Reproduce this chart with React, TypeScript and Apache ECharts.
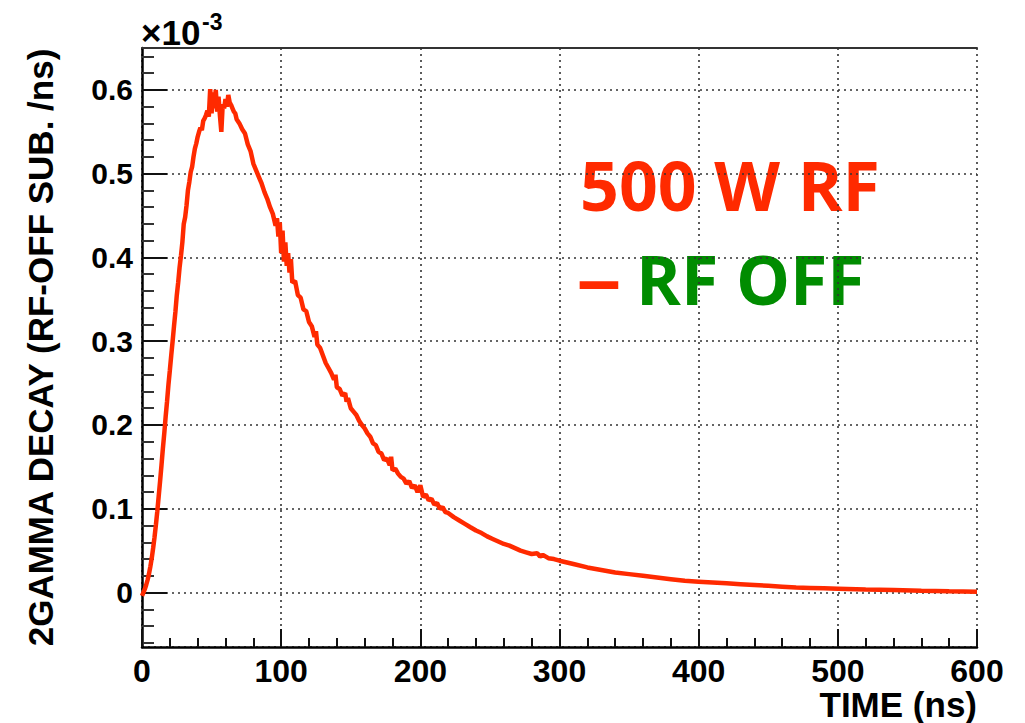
import React, { useEffect, useRef } from "react";
import * as echarts from "echarts";

// Time (ns) of each sample
const times = [
  0, 1, 2, 3, 4, 5, 6, 7, 8, 9, 10, 11, 12, 13, 14, 15, 16, 17, 18, 19,
  20, 21, 22, 23, 24, 25, 26, 27, 28, 29, 30, 31, 32, 33, 34, 35, 36, 37, 38, 39,
  40, 41, 42, 43, 44, 45, 46, 47, 48, 49, 50, 51, 52, 53, 54, 55, 56, 57, 58, 59,
  60, 61, 62, 63, 64, 65, 66, 67, 68, 70, 72, 74, 76, 78, 80, 82, 84, 86, 88, 90,
  92, 94, 96, 97, 98, 99, 100, 101, 102, 103, 104, 105, 106, 107, 108, 110, 112, 114, 116, 118,
  120, 122, 124, 125, 126, 128, 130, 132, 134, 136, 138, 139, 140, 142, 144, 146, 147, 148, 150, 152,
  154, 156, 158, 160, 162, 164, 166, 168, 170, 172, 174, 176, 178, 179, 180, 182, 184, 186, 188, 190,
  192, 194, 196, 198, 200, 202, 204, 206, 208, 210, 212, 214, 216, 218, 220, 224, 228, 232, 236, 240,
  244, 248, 252, 256, 260, 264, 268, 272, 276, 280, 284, 286, 288, 292, 296, 300, 310, 320, 330, 340,
  350, 360, 370, 380, 390, 400, 410, 420, 430, 440, 450, 460, 470, 480, 490, 500, 520, 540, 560, 580,
  600,
];

// 2GAMMA decay rate (RF-OFF subtracted), in units of 1e-3 /ns
const decay = [
  -0.004, 0.0, 0.004, 0.009, 0.015, 0.022, 0.031, 0.041, 0.053, 0.066, 0.081, 0.097, 0.115, 0.133, 0.152, 0.172, 0.19, 0.21, 0.228, 0.248,
  0.265, 0.283, 0.3, 0.318, 0.335, 0.355, 0.37, 0.388, 0.402, 0.418, 0.44, 0.448, 0.462, 0.48, 0.49, 0.502, 0.508, 0.52, 0.53, 0.536,
  0.544, 0.55, 0.555, 0.552, 0.563, 0.566, 0.57, 0.575, 0.568, 0.601, 0.572, 0.597, 0.578, 0.6, 0.574, 0.592, 0.569, 0.55, 0.583, 0.578,
  0.589, 0.58, 0.594, 0.585, 0.582, 0.578, 0.574, 0.572, 0.565, 0.56, 0.553, 0.548, 0.535, 0.527, 0.512, 0.504, 0.496, 0.488, 0.478, 0.47,
  0.46, 0.452, 0.438, 0.447, 0.425, 0.442, 0.405, 0.432, 0.395, 0.418, 0.39, 0.405, 0.382, 0.398, 0.37, 0.372, 0.355, 0.352, 0.338, 0.336,
  0.323, 0.318, 0.305, 0.312, 0.296, 0.292, 0.283, 0.274, 0.268, 0.262, 0.254, 0.26, 0.245, 0.243, 0.235, 0.238, 0.228, 0.232, 0.22, 0.216,
  0.212, 0.205, 0.2, 0.196, 0.19, 0.186, 0.178, 0.176, 0.168, 0.166, 0.158, 0.16, 0.152, 0.162, 0.146, 0.148, 0.142, 0.138, 0.136, 0.13,
  0.133, 0.125, 0.128, 0.12, 0.128, 0.114, 0.117, 0.11, 0.112, 0.105, 0.107, 0.1, 0.102, 0.096, 0.095, 0.09, 0.086, 0.082, 0.078, 0.074,
  0.071, 0.067, 0.064, 0.061, 0.058, 0.056, 0.053, 0.05, 0.048, 0.046, 0.047, 0.043, 0.045, 0.041, 0.04, 0.038, 0.034, 0.03, 0.027, 0.024,
  0.022, 0.02, 0.018, 0.016, 0.014, 0.013, 0.012, 0.011, 0.01, 0.009, 0.008, 0.007, 0.006, 0.0055, 0.005, 0.0045, 0.0035, 0.003, 0.0022, 0.0015,
  0.001,
];

const yMinorTicks = [
  -0.06, -0.04, -0.02, 0.02, 0.04, 0.06, 0.08, 0.12, 0.14, 0.16, 0.18, 0.22, 0.24, 0.26, 0.28,
  0.32, 0.34, 0.36, 0.38, 0.42, 0.44, 0.46, 0.48, 0.52, 0.54, 0.56, 0.58, 0.62, 0.64,
];

const X_TITLE = "TIME (ns)";
const Y_TITLE = "2GAMMA DECAY (RF-OFF SUB. /ns)";
const LABEL_1 = "500 W RF";
const LABEL_DASH = "\u2013";
const LABEL_2 = "RF OFF";

const FONT = "Liberation Sans";
const RED = "#ff2a00";
const GREEN = "#008c00";

export default function App() {
  const ref = useRef<HTMLDivElement>(null);

  useEffect(() => {
    if (!ref.current) return;
    const chart = echarts.init(ref.current, undefined, { renderer: "svg" });
    const data = times.map((t, i) => [t, decay[i]]);
    const gridLine = { show: true, lineStyle: { color: "#333", width: 1.6, type: [2, 4] as any } };

    chart.setOption({
      animation: false,
      backgroundColor: "#fff",
      grid: { left: 142, right: 48, top: 48, bottom: 76, containLabel: false, outerBoundsMode: "none" },
      xAxis: [
        {
          type: "value",
          min: 0,
          max: 600,
          interval: 100,
          position: "bottom",
          name: X_TITLE,
          nameLocation: "end",
          nameGap: 0,
          nameTextStyle: {
            fontFamily: FONT,
            fontWeight: "bold",
            fontSize: 35,
            color: "#000",
            align: "right",
            verticalAlign: "top",
            padding: [40, 0, 0, 0],
          },
          axisLine: { show: true, onZero: false, lineStyle: { color: "#000", width: 2.5 } },
          axisTick: { show: true, inside: true, length: 18, lineStyle: { color: "#111", width: 2 } },
          minorTick: { show: true, splitNumber: 5, length: 9, lineStyle: { color: "#111", width: 2 } },
          axisLabel: { fontFamily: FONT, fontWeight: "bold", fontSize: 32, color: "#000", margin: 8 },
          splitLine: gridLine,
        },
        {
          type: "value",
          min: 0,
          max: 600,
          position: "top",
          axisLine: { show: true, onZero: false, lineStyle: { color: "#333", width: 2 } },
          axisTick: { show: false },
          axisLabel: { show: false },
          splitLine: { show: false },
        },
      ],
      yAxis: [
        {
          type: "value",
          min: -0.065,
          max: 0.65,
          splitNumber: 7,
          position: "left",
          name: Y_TITLE,
          nameLocation: "middle",
          nameGap: 84,
          nameTextStyle: { fontFamily: FONT, fontWeight: "bold", fontSize: 35, color: "#000" },
          axisLine: { show: true, onZero: false, lineStyle: { color: "#000", width: 2.5 } },
          axisTick: { show: true, inside: true, length: 25, lineStyle: { color: "#111", width: 2 } },
          axisLabel: {
            fontFamily: FONT,
            fontWeight: "bold",
            fontSize: 30,
            color: "#000",
            margin: 9,
            showMinLabel: false,
            showMaxLabel: false,
          },
          splitLine: gridLine,
        },
        {
          type: "value",
          min: -0.065,
          max: 0.65,
          position: "left",
          axisLine: { show: false, onZero: false },
          axisTick: {
            show: true,
            inside: true,
            length: 12,
            customValues: yMinorTicks,
            lineStyle: { color: "#333", width: 2 },
          },
          axisLabel: { show: false },
          splitLine: { show: false },
        },
      ],
      series: [
        {
          type: "line",
          data,
          showSymbol: false,
          symbol: "none",
          lineStyle: { color: RED, width: 4.5 },
          z: 5,
        },
      ],
      graphic: [
        {
          type: "text",
          x: 141,
          y: 32,
          style: {
            text: "\u00d710",
            fontFamily: FONT,
            fontWeight: "bold",
            fontSize: 35,
            fill: "#000",
            align: "left",
            verticalAlign: "middle",
          },
        },
        {
          type: "text",
          x: 202,
          y: 22,
          style: {
            text: "-3",
            fontFamily: FONT,
            fontWeight: "bold",
            fontSize: 23,
            fill: "#000",
            align: "left",
            verticalAlign: "middle",
          },
        },
        {
          type: "text",
          x: 580,
          y: 184,
          style: {
            text: LABEL_1,
            fontFamily: "Open Sans",
            fontWeight: "bold",
            fontSize: 68,
            fill: RED,
            align: "left",
            verticalAlign: "middle",
          },
        },
        {
          type: "text",
          x: 576,
          y: 278,
          scaleX: 1.35,
          style: {
            text: LABEL_DASH,
            fontFamily: "Open Sans",
            fontWeight: "bold",
            fontSize: 68,
            fill: RED,
            align: "left",
            verticalAlign: "middle",
          },
        },
        {
          type: "text",
          x: 636,
          y: 278,
          style: {
            text: LABEL_2,
            fontFamily: "Open Sans",
            fontWeight: "bold",
            fontSize: 68,
            fill: GREEN,
            align: "left",
            verticalAlign: "middle",
          },
        },
      ],
    });

    return () => chart.dispose();
  }, []);

  return (
    <div
      ref={ref}
      style={{ position: "fixed", left: 0, top: 0, width: 1025, height: 723, background: "#fff" }}
    />
  );
}
